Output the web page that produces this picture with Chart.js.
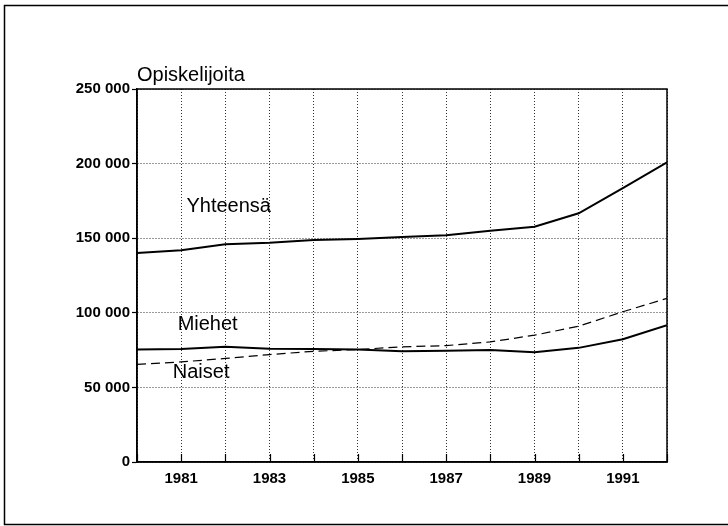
<!DOCTYPE html>
<html>
<head>
<meta charset="utf-8">
<script src="https://cdn.jsdelivr.net/npm/chart.js@4/dist/chart.umd.min.js"></script>
<style>
  html, body { margin: 0; padding: 0; background: #fff; }
  #wrap { width: 728px; height: 526px; position: relative; }
</style>
</head>
<body>
<div id="wrap"><canvas id="c" width="728" height="526"></canvas></div>
<script>
const years = [1980, 1981, 1982, 1983, 1984, 1985, 1986, 1987, 1988, 1989, 1990, 1991, 1992];
const yhteensa = [140000, 142000, 146000, 147000, 148800, 149500, 150800, 152000, 155000, 157700, 166700, 183500, 200800];
const miehet = [75400, 75700, 77200, 75900, 75800, 75400, 74300, 74500, 75000, 73500, 76500, 82300, 91700];
const naiset = [65400, 67100, 69400, 72000, 74200, 75400, 77200, 78000, 80500, 85000, 91000, 100700, 109700];
const yTicks = [0, 50000, 100000, 150000, 200000, 250000];
const xLabelYears = [1981, 1983, 1985, 1987, 1989, 1991];
const seriesLabels = [
  { text: 'Yhteensä', x: 1981.12, y: 171000 },
  { text: 'Miehet', x: 1980.92, y: 92300 },
  { text: 'Naiset', x: 1980.81, y: 60300 }
];
const yTitle = 'Opiskelijoita';

const FONT = '"Liberation Sans", Arial, Helvetica, sans-serif';

function pts(arr) { return years.map((yr, i) => ({ x: yr, y: arr[i] })); }

const decor = {
  id: 'decor',
  afterDraw(chart) {
    const ctx = chart.ctx;
    const a = chart.chartArea;
    const xs = chart.scales.x, ys = chart.scales.y;
    ctx.save();
    // outer frame
    ctx.strokeStyle = '#000';
    ctx.lineWidth = 1.5;
    ctx.strokeRect(4.5, 5.5, 740, 519);
    // plot box
    ctx.lineWidth = 1.5;
    ctx.strokeRect(a.left, a.top, a.right - a.left, a.bottom - a.top);
    // inward x tick marks
    ctx.lineWidth = 1.2;
    years.forEach(yr => {
      const px = Math.round(xs.getPixelForValue(yr)) + 0.5;
      ctx.beginPath();
      ctx.moveTo(px, a.bottom);
      ctx.lineTo(px, a.bottom - 8);
      ctx.stroke();
    });
    // texts
    ctx.fillStyle = '#000';
    ctx.textBaseline = 'middle';
    ctx.textAlign = 'left';
    ctx.font = '20px ' + FONT;
    ctx.fillText(yTitle, a.left, 75);
    seriesLabels.forEach(l => {
      ctx.fillText(l.text, xs.getPixelForValue(l.x), ys.getPixelForValue(l.y));
    });
    ctx.restore();
  }
};

new Chart(document.getElementById('c'), {
  type: 'line',
  data: {
    datasets: [
      { label: 'Yhteensä', data: pts(yhteensa), borderColor: '#000', borderWidth: 2, pointRadius: 0, tension: 0, fill: false },
      { label: 'Miehet', data: pts(miehet), borderColor: '#000', borderWidth: 2, pointRadius: 0, tension: 0, fill: false },
      { label: 'Naiset', data: pts(naiset), borderColor: '#000', borderWidth: 1.2, borderDash: [9, 5], pointRadius: 0, tension: 0, fill: false }
    ]
  },
  plugins: [decor],
  options: {
    responsive: false,
    animation: false,
    devicePixelRatio: 1,
    layout: { padding: { left: 0, top: 89, right: 61, bottom: 24 } },
    plugins: { legend: { display: false }, tooltip: { enabled: false }, title: { display: false } },
    scales: {
      x: {
        type: 'linear',
        min: 1980, max: 1992,
        afterFit(s) { s.height = 40; },
        afterBuildTicks(s) { s.ticks = years.map(v => ({ value: v })); },
        ticks: {
          autoSkip: false,
          maxRotation: 0,
          padding: 8,
          color: '#000',
          font: { family: FONT, size: 15, weight: 'bold' },
          callback: v => xLabelYears.includes(v) ? String(v) : ''
        },
        grid: { color: '#333', lineWidth: 1, drawTicks: false },
        border: { display: true, color: '#000', width: 1.5, dash: [1, 2] }
      },
      y: {
        min: 0, max: 250000,
        afterFit(s) { s.width = 137; },
        afterBuildTicks(s) { s.ticks = yTicks.map(v => ({ value: v })); },
        ticks: {
          padding: 2,
          color: '#000',
          font: { family: FONT, size: 15, weight: 'bold' },
          callback: v => String(v).replace(/\B(?=(\d{3})+(?!\d))/g, ' ')
        },
        grid: { color: '#333', lineWidth: 1, drawTicks: true, tickLength: 5, tickColor: '#000', tickBorderDash: [], tickWidth: 1.2 },
        border: { display: true, color: '#000', width: 1.5, dash: [1, 2] }
      }
    }
  }
});
</script>
</body>
</html>
